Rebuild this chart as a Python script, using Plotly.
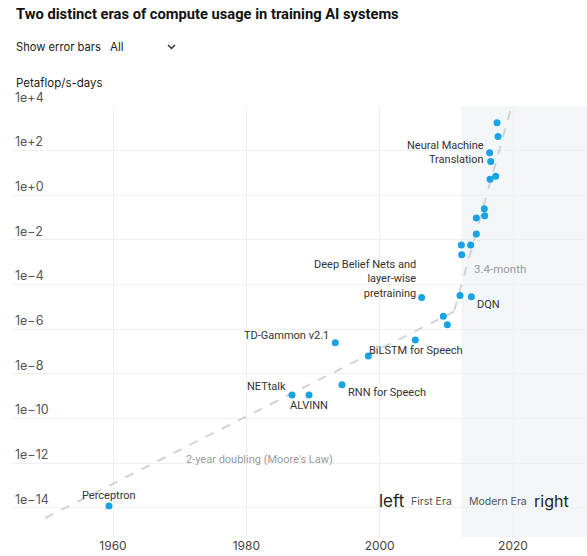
import plotly.graph_objects as go
import numpy as np

# ---- data ----
years = [1959.4, 1986.85, 1989.4, 1994.35, 1993.35, 1998.3, 2005.35, 2006.3,
         2009.55, 2010.15, 2012.05, 2013.75, 2012.25, 2013.65, 2012.3,
         2014.5, 2014.5, 2015.75, 2015.7, 2016.55, 2017.4, 2016.65, 2016.5,
         2017.75, 2017.6]
log_pfsd = [-13.91, -8.94, -8.94, -8.48, -6.6, -7.2, -6.48, -4.58,
            -5.42, -5.79, -4.49, -4.54, -2.22, -2.22, -2.66,
            -1.73, -1.02, -0.91, -0.6, 0.72, 0.85, 1.51, 1.91,
            2.63, 3.25]
values = [10 ** v for v in log_pfsd]

label_names = ["Perceptron", "NETtalk", "ALVINN", "RNN for Speech", "TD-Gammon v2.1",
               "BiLSTM for Speech", "Deep Belief Nets and<br>layer-wise<br>pretraining",
               "DQN", "Neural Machine<br>Translation"]
label_index = [0, 1, 2, 3, 4, 5, 7, 11, 22]

moore_years = [1949.8, 2011.2]
moore_log = [-14.45, -5.2]
modern_years = [2011.2, 2019.8]
modern_log = [-5.15, 4.0]

ytick_vals = [-14, -12, -10, -8, -6, -4, -2, 0, 2, 4]
ytick_text = ["1e\u221214", "1e\u221212", "1e\u221210", "1e\u22128", "1e\u22126",
              "1e\u22124", "1e\u22122", "1e+0", "1e+2", "1e+4"]
xtick_vals = [1960, 1980, 2000, 2020]
modern_start = 2012.3

# ---- layout geometry (pixels) ----
W, H = 587, 556
ML, MR, MT, MB = 12, 0, 106, 19
PW, PH = W - ML - MR, H - MT - MB
X0, X1 = 1944.85, 2031.1
Y0, Y1 = -15.3, 4.0


def paper(px, py):
    return (px - ML) / PW, (H - MB - py) / PH


FONT = "Inter"
LFONT = "Roboto"
fig = go.Figure()

# shaded modern era
fig.add_shape(type="rect", xref="x", yref="paper", x0=modern_start, x1=X1,
              y0=0, y1=1, fillcolor="#f2f6f9", line_width=0, layer="below")

# trend lines
fig.add_trace(go.Scatter(x=moore_years, y=[10 ** v for v in moore_log], mode="lines",
                         line=dict(color="#d3d3d3", width=2, dash="dash"),
                         hoverinfo="skip", showlegend=False))
fig.add_trace(go.Scatter(x=modern_years, y=[10 ** v for v in modern_log], mode="lines",
                         line=dict(color="#d3d3d3", width=2, dash="dash"),
                         hoverinfo="skip", showlegend=False))

# points
fig.add_trace(go.Scatter(x=years, y=values, mode="markers",
                         marker=dict(color="#17a3e6", size=7),
                         showlegend=False))

# point labels
label_style = {
    "Perceptron": dict(xanchor="center", xshift=0, yshift=10),
    "NETtalk": dict(xanchor="right", xshift=-4, yshift=8),
    "ALVINN": dict(xanchor="center", xshift=0, yshift=-11),
    "RNN for Speech": dict(xanchor="left", xshift=4, yshift=-8),
    "TD-Gammon v2.1": dict(xanchor="right", xshift=-4, yshift=7),
    "BiLSTM for Speech": dict(xanchor="left", xshift=-1, yshift=6),
    "Deep Belief Nets and<br>layer-wise<br>pretraining": dict(xanchor="right", xshift=-4, yshift=19),
    "DQN": dict(xanchor="left", xshift=4, yshift=-8),
    "Neural Machine<br>Translation": dict(xanchor="right", xshift=-4, yshift=0),
}
for name, idx in zip(label_names, label_index):
    st = label_style[name]
    fig.add_annotation(x=years[idx], y=log_pfsd[idx], text=name, showarrow=False,
                       xanchor=st["xanchor"], yanchor="middle", align="right",
                       xshift=st["xshift"], yshift=st["yshift"],
                       font=dict(family=LFONT, size=11, color="#333333"))

# trend labels
fig.add_annotation(x=1981.9, y=-11.81, text="2-year doubling (Moore's Law)", showarrow=False,
                   xanchor="center", yanchor="middle",
                   font=dict(family=LFONT, size=11, color="#9a9a9a"))
fig.add_annotation(x=2013.85, y=-3.31, text="3.4-month", showarrow=False,
                   xanchor="left", yanchor="middle",
                   font=dict(family=LFONT, size=11.5, color="#9a9a9a"))

# era labels
era_y = -13.69
fig.add_annotation(x=2001.8, y=era_y, text="left", showarrow=False, xanchor="center",
                   yanchor="middle", font=dict(family=FONT, size=17, color="#222222"))
fig.add_annotation(x=2007.8, y=era_y, text="First Era", showarrow=False, xanchor="center",
                   yanchor="middle", font=dict(family=FONT, size=10.5, color="#555555"))
fig.add_annotation(x=2017.7, y=era_y, text="Modern Era", showarrow=False, xanchor="center",
                   yanchor="middle", font=dict(family=FONT, size=10.5, color="#555555"))
fig.add_annotation(x=2025.8, y=era_y, text="right", showarrow=False, xanchor="center",
                   yanchor="middle", font=dict(family=FONT, size=16, color="#222222"))

# title and controls
px_, py_ = paper(14, 14)
fig.add_annotation(xref="paper", yref="paper", x=px_, y=py_, text="<b>Two distinct eras of compute usage in training AI systems</b>",
                   showarrow=False, xanchor="left", yanchor="middle",
                   font=dict(family=LFONT, size=14.7, color="#111111"))
px_, py_ = paper(14, 47)
fig.add_annotation(xref="paper", yref="paper", x=px_, y=py_, text="Show error bars",
                   showarrow=False, xanchor="left", yanchor="middle",
                   font=dict(family=FONT, size=11.2, color="#222222"))
px_, py_ = paper(108, 47)
fig.add_annotation(xref="paper", yref="paper", x=px_, y=py_, text="All",
                   showarrow=False, xanchor="left", yanchor="middle",
                   font=dict(family=FONT, size=11.5, color="#222222"))
cx0, cy0 = paper(168, 45)
cx1, cy1 = paper(171.5, 48.5)
cx2, cy2 = paper(175, 45)
fig.add_shape(type="path", xref="paper", yref="paper",
              path=f"M {cx0} {cy0} L {cx1} {cy1} L {cx2} {cy2}",
              line=dict(color="#333333", width=1.5))
px_, py_ = paper(14, 83.5)
fig.add_annotation(xref="paper", yref="paper", x=px_, y=py_, text="Petaflop/s-days",
                   showarrow=False, xanchor="left", yanchor="middle",
                   font=dict(family=FONT, size=11.5, color="#222222"))

fig.update_layout(
    width=W, height=H,
    margin=dict(l=ML, r=MR, t=MT, b=MB),
    paper_bgcolor="white", plot_bgcolor="white",
    font=dict(family=FONT, size=12, color="#444444"),
    showlegend=False,
)
fig.update_xaxes(range=[X0, X1], tickvals=xtick_vals, showgrid=True, gridcolor="#efefef",
                 zeroline=False, showline=False, ticks="",
                 tickfont=dict(family=FONT, size=12, color="#444444"))
fig.update_yaxes(type="log", range=[Y0, Y1], tickvals=[10 ** v for v in ytick_vals],
                 ticktext=ytick_text, ticklabelposition="inside top",
                 ticklabeloverflow="allow",
                 showgrid=True, gridcolor="#efefef", zeroline=False, showline=False, ticks="",
                 tickfont=dict(family=FONT, size=12.5, color="#555555"))

fig.write_html("out.html")
